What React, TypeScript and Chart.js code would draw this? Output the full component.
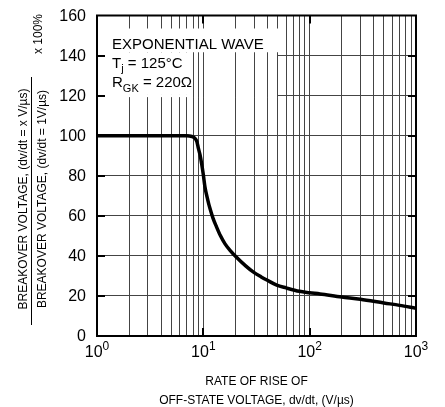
import React, { useEffect, useRef } from 'react';
import { Chart, registerables } from 'chart.js';

Chart.register(...registerables);

const FONT = '"Liberation Sans", Arial, sans-serif';

// curve
const dvdt = [1, 3, 7, 7.8, 8.3, 8.7, 9, 9.3, 9.64, 10, 10.35, 11, 11.5, 12.3, 13.3, 14.5, 16, 18, 20.5, 25, 29.4, 35, 40, 49, 60, 80, 100, 125, 200, 300, 500, 700, 1000];
const breakover = [100, 100, 100, 99.6, 98.8, 97, 93.5, 90.5, 86, 80.5, 74.5, 68, 64, 59, 54.5, 50, 46, 42.5, 39.3, 35, 32, 29.5, 27.8, 25.4, 24, 22.3, 21.6, 21, 19.5, 18.4, 16.5, 15.3, 13.8];

const yTicks = [0, 20, 40, 60, 80, 100, 120, 140, 160];
const xDecades = [1, 10, 100, 1000];
const xExponents = ['0', '1', '2', '3'];
const gridSteps = [1, 2, 3, 4, 5, 6, 7, 8, 9];

const yTitleTop = 'BREAKOVER VOLTAGE, (dv/dt = x V/\u00b5s)';
const yTitleBottom = 'BREAKOVER VOLTAGE, (dv/dt = 1V/\u00b5s)';
const yTitleFactor = 'x 100%';
const xTitle = ['RATE OF RISE OF', 'OFF-STATE VOLTAGE, dv/dt, (V/\u00b5s)'];

type Run = { text: string; size: number; dy: number };

const noteLines: Run[][] = [
  [{ text: 'EXPONENTIAL WAVE', size: 15, dy: 0 }],
  [
    { text: 'T', size: 15, dy: 0 },
    { text: 'j', size: 11, dy: 4 },
    { text: ' = 125\u00b0C', size: 15, dy: 0 },
  ],
  [
    { text: 'R', size: 15, dy: 0 },
    { text: 'GK', size: 11, dy: 5 },
    { text: ' = 220\u03a9', size: 15, dy: 0 },
  ],
];

const gridValues: number[] = [];
xDecades.slice(0, -1).forEach((d) => gridSteps.forEach((s) => gridValues.push(d * s)));
gridValues.push(xDecades[xDecades.length - 1]);

const runsWidth = (ctx: CanvasRenderingContext2D, runs: Run[]) =>
  runs.reduce((w, r) => {
    ctx.font = `${r.size}px ${FONT}`;
    return w + ctx.measureText(r.text).width;
  }, 0);

const drawRuns = (ctx: CanvasRenderingContext2D, x: number, y: number, runs: Run[]) => {
  let cx = x;
  runs.forEach((r) => {
    ctx.font = `${r.size}px ${FONT}`;
    ctx.fillText(r.text, cx, y + r.dy);
    cx += ctx.measureText(r.text).width;
  });
};

const align = (chart: any, px: number, width: number) => {
  const dpr = chart.currentDevicePixelRatio || 1;
  const half = width / 2;
  return Math.round((px - half) * dpr) / dpr + half;
};

const decorations = {
  id: 'decorations',
  beforeDatasetsDraw(chart: any) {
    const { ctx, chartArea: a, scales } = chart;
    const y = scales.y;
    const x = scales.x;
    ctx.save();
    ctx.fillStyle = '#fff';
    // white backing behind the note text
    ctx.fillRect(a.left + 1, a.top + 13, 180, 24);
    ctx.fillRect(a.left + 1, a.top + 37, 95, 42);
    [140, 120].forEach((v) => {
      const py = y.getPixelForValue(v);
      ctx.fillRect(a.left + 8, py - 1.5, 173, 3);
    });
    ctx.strokeStyle = '#444';
    ctx.lineWidth = 1;
    const yEnd = y.getPixelForValue(120) + 2;
    gridValues.forEach((v) => {
      const px = x.getPixelForValue(v);
      if (px > a.left + 96 && px < a.left + 181) {
        const ax = align(chart, px, 1);
        ctx.beginPath();
        ctx.moveTo(ax, a.top + 37);
        ctx.lineTo(ax, yEnd);
        ctx.stroke();
      }
    });
    ctx.restore();
  },
  afterDatasetsDraw(chart: any) {
    const { ctx, chartArea: a, scales } = chart;
    ctx.save();
    ctx.strokeStyle = '#000';
    ctx.lineWidth = 2;
    // inner major ticks
    yTicks.slice(1, -1).forEach((v) => {
      const py = align(chart, scales.y.getPixelForValue(v), 2);
      ctx.beginPath();
      ctx.moveTo(a.left, py);
      ctx.lineTo(a.left + 8, py);
      ctx.moveTo(a.right, py);
      ctx.lineTo(a.right - 8, py);
      ctx.stroke();
    });
    xDecades.slice(1, -1).forEach((v) => {
      const px = align(chart, scales.x.getPixelForValue(v), 2);
      ctx.beginPath();
      ctx.moveTo(px, a.bottom);
      ctx.lineTo(px, a.bottom - 8);
      ctx.moveTo(px, a.top);
      ctx.lineTo(px, a.top + 8);
      ctx.stroke();
    });
    ctx.strokeRect(a.left, a.top, a.right - a.left, a.bottom - a.top);
    ctx.restore();
  },
  afterDraw(chart: any) {
    const { ctx, chartArea: a, scales } = chart;
    ctx.save();
    ctx.fillStyle = '#000';

    // note
    ctx.textAlign = 'left';
    ctx.textBaseline = 'alphabetic';
    noteLines.forEach((runs, i) => drawRuns(ctx, a.left + 15, a.top + 33 + i * 19, runs));

    // y tick labels
    ctx.font = `16px ${FONT}`;
    ctx.textAlign = 'right';
    ctx.textBaseline = 'middle';
    yTicks.forEach((v) => ctx.fillText(String(v), a.left - 11, scales.y.getPixelForValue(v) + 1));

    // x tick labels with superscript exponents
    ctx.textAlign = 'left';
    ctx.textBaseline = 'alphabetic';
    xDecades.forEach((v, i) => {
      const runs: Run[] = [
        { text: '10', size: 16, dy: 0 },
        { text: xExponents[i], size: 12, dy: -7 },
      ];
      const w = runsWidth(ctx, runs);
      drawRuns(ctx, scales.x.getPixelForValue(v) - w / 2, a.bottom + 21, runs);
    });

    // x title
    ctx.font = `12px ${FONT}`;
    ctx.textAlign = 'center';
    const cx = (a.left + a.right) / 2;
    ctx.fillText(xTitle[0], cx, 385);
    ctx.fillText(xTitle[1], cx, 404);

    // y title as a fraction
    const cy = 199;
    ctx.save();
    ctx.translate(27, cy);
    ctx.rotate(-Math.PI / 2);
    ctx.fillText(yTitleTop, 0, 0);
    ctx.restore();
    ctx.save();
    ctx.translate(46, cy);
    ctx.rotate(-Math.PI / 2);
    ctx.fillText(yTitleBottom, 0, 0);
    ctx.restore();
    ctx.save();
    ctx.translate(42, 34);
    ctx.rotate(-Math.PI / 2);
    ctx.fillText(yTitleFactor, 0, 0);
    ctx.restore();
    ctx.strokeStyle = '#000';
    ctx.lineWidth = 1;
    ctx.beginPath();
    ctx.moveTo(31.5, 77);
    ctx.lineTo(31.5, 325);
    ctx.stroke();

    ctx.restore();
  },
};

const App = () => {
  const canvasRef = useRef<HTMLCanvasElement>(null);

  useEffect(() => {
    const ctx = canvasRef.current!.getContext('2d')!;

    const chart = new Chart(ctx, {
      type: 'line',
      data: {
        datasets: [
          {
            data: dvdt.map((v, i) => ({ x: v, y: breakover[i] })),
            borderColor: '#000',
            borderWidth: 3.5,
            pointRadius: 0,
            fill: false,
            cubicInterpolationMode: 'monotone',
          },
        ],
      },
      options: {
        responsive: true,
        maintainAspectRatio: false,
        animation: false,
        layout: { padding: { top: 15.5, right: 29, left: 0, bottom: 0 } },
        plugins: {
          legend: { display: false },
          tooltip: { enabled: false },
        },
        scales: {
          x: {
            type: 'logarithmic',
            min: 1,
            max: 1000,
            border: { display: false },
            grid: { color: '#444', lineWidth: 1, drawTicks: false },
            ticks: { display: false, autoSkip: false },
            afterBuildTicks: (s: any) => {
              s.ticks = gridValues.map((v) => ({ value: v }));
            },
            afterFit: (s: any) => {
              s.height = 71;
            },
          },
          y: {
            min: 0,
            max: 160,
            border: { display: false },
            grid: { color: '#444', lineWidth: 1, drawTicks: false },
            ticks: { display: false, stepSize: 20 },
            afterBuildTicks: (s: any) => {
              s.ticks = yTicks.map((v) => ({ value: v }));
            },
            afterFit: (s: any) => {
              s.width = 97;
            },
          },
        },
      },
      plugins: [decorations],
    } as any);

    return () => chart.destroy();
  }, []);

  return (
    <div style={{ position: 'fixed', left: 0, top: 0, width: 445, height: 407, background: '#fff' }}>
      <canvas ref={canvasRef} />
    </div>
  );
};

export default App;
